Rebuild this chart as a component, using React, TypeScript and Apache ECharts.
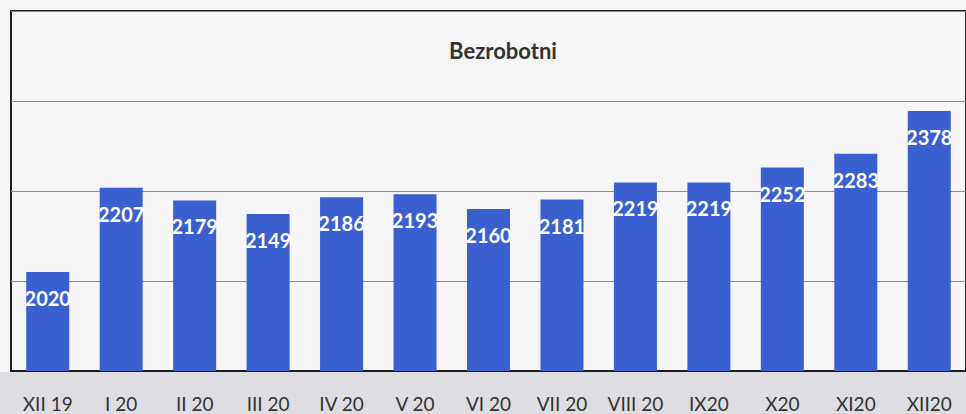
import React, { useEffect, useRef } from "react";
import * as echarts from "echarts";

const categories = ["XII 19", "I 20", "II 20", "III 20", "IV 20", "V 20", "VI 20", "VII 20", "VIII 20", "IX20", "X20", "XI20", "XII20"];
const values = [2020, 2207, 2179, 2149, 2186, 2193, 2160, 2181, 2219, 2219, 2252, 2283, 2378];
const chartTitle = "Bezrobotni";

export default function App() {
  const ref = useRef<HTMLDivElement>(null);
  useEffect(() => {
    if (!ref.current) return;
    const chart = echarts.init(ref.current, undefined, { renderer: "svg" });
    chart.setOption({
      animation: false,
      backgroundColor: "#f6f6f9",
      title: {
        text: chartTitle,
        left: 498,
        top: 34,
        textAlign: "center",
        textStyle: { fontFamily: "Lato", fontWeight: "bold", fontSize: 22, color: "#333333" },
      },
      graphic: [
        { type: "rect", left: 0, top: 372, shape: { width: 966, height: 42 }, style: { fill: "#dedee2" }, z: -10 },
      ],
      grid: {
        left: 11,
        top: 11,
        width: 966,
        height: 360,
        show: true,
        borderColor: "#1e1e1e",
        borderWidth: 2,
        backgroundColor: "transparent",
      },
      xAxis: {
        type: "category",
        data: categories,
        axisLine: { show: true, lineStyle: { color: "#1e1e1e", width: 2 } },
        axisTick: { show: false },
        axisLabel: { margin: 23, fontFamily: "Lato", fontSize: 19, color: "#333333" },
      },
      yAxis: {
        type: "value",
        min: 1800,
        max: 2600,
        interval: 200,
        axisLabel: { show: false },
        axisLine: { show: false },
        axisTick: { show: false },
        splitLine: { show: true, lineStyle: { color: "#8c8c8c", width: 1 } },
      },
      series: [
        {
          type: "bar",
          data: values,
          barWidth: 43,
          itemStyle: { color: "#3a60d0" },
          label: {
            show: true,
            position: "insideTop",
            distance: 16,
            color: "#ffffff",
            fontFamily: "Lato",
            fontWeight: "bold",
            fontSize: 20,
          },
        },
      ],
    });
    return () => chart.dispose();
  }, []);
  return <div ref={ref} style={{ position: "absolute", left: 0, top: 0, width: 966, height: 414 }} />;
}
